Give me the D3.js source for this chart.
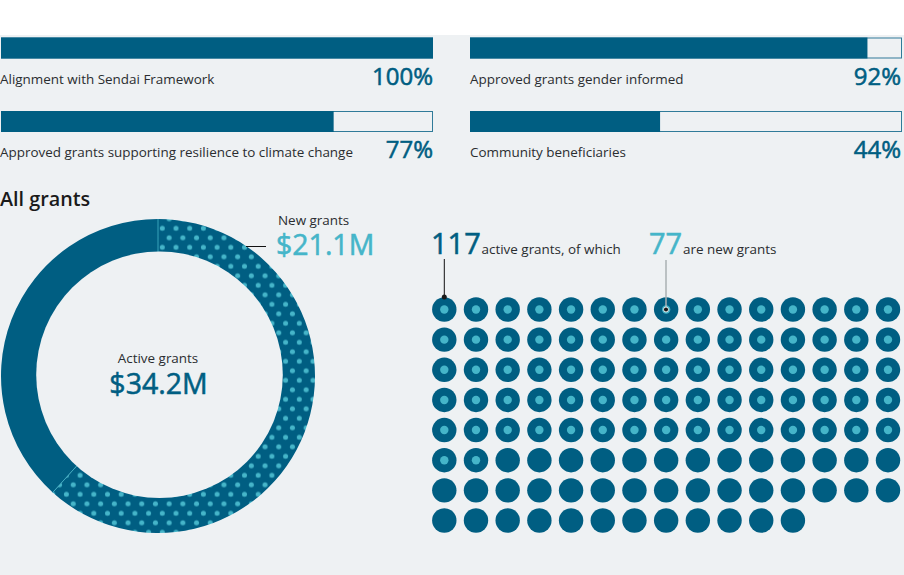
<!DOCTYPE html>
<html>
<head>
<meta charset="utf-8">
<script src="https://cdn.jsdelivr.net/npm/d3@7"></script>
<style>
html, body { margin: 0; padding: 0; background: #fff; }
svg { display: block; }
text { font-family: "Open Sans", sans-serif; }
.big { stroke-width: 0.55; paint-order: stroke; }
</style>
</head>
<body>
<svg id="chart" width="904" height="575"></svg>
<script>
// progress bars
const barLabels = ["Alignment with Sendai Framework", "Approved grants gender informed",
    "Approved grants supporting resilience to climate change", "Community beneficiaries"];
const barValues = [100, 92, 77, 44];

// donut
const donutLabels = ["New grants", "Active grants"];
const donutTotal = 34.2;
const donutNew = 21.1;

// dot grid
const activeGrants = 117;
const newGrants = 77;
const dotColumns = 15;
const dotRows = 8;

const blue = "#005e82", cyan = "#45b5c9", ink = "#2a2d30", bg = "#eef1f3";

const svg = d3.select("#chart");
svg.append("rect").attr("x", 0).attr("y", 35).attr("width", 904).attr("height", 540).attr("fill", bg);

// dotted pattern for the new grants part, origin is the donut centre
const pattern = svg.append("defs").append("pattern")
    .attr("id", "dots").attr("patternUnits", "userSpaceOnUse")
    .attr("x", 162.3 - 3.4 - 158).attr("y", 228.3 - 4.75 - 376)
    .attr("width", 13.7).attr("height", 19);
pattern.append("rect").attr("width", 13.7).attr("height", 19).attr("fill", blue);
pattern.append("circle").attr("cx", 3.4).attr("cy", 4.75).attr("r", 2.5).attr("fill", cyan);
pattern.append("circle").attr("cx", 10.25).attr("cy", 14.25).attr("r", 2.5).attr("fill", cyan);

// bars
const barX = d3.scaleLinear().domain([0, 100]).range([0, 432]);
const bars = svg.selectAll(".bar").data(barValues).enter().append("g")
    .attr("class", "bar")
    .attr("transform", (d, i) => `translate(${i % 2 ? 470 : 1},${i < 2 ? 37.5 : 111})`);
bars.append("rect").attr("x", 0.5).attr("y", 0.5).attr("width", barX(100) - 1).attr("height", 20)
    .attr("fill", bg).attr("stroke", blue).attr("stroke-opacity", 0.8);
bars.append("rect").attr("width", d => barX(d)).attr("height", 21).attr("fill", blue);
bars.append("text").attr("x", (d, i) => i % 2 ? 0 : -1).attr("y", (d, i) => i < 2 ? 46.5 : 46)
    .attr("font-size", 13.45).attr("fill", ink).text((d, i) => barLabels[i]);
bars.append("text").attr("class", "big")
    .attr("x", (d, i) => barX(100) - (i % 2 ? 1 : 0)).attr("y", (d, i) => i < 2 ? 47.5 : 47)
    .attr("text-anchor", "end").attr("font-size", 24).attr("fill", blue).attr("stroke", blue)
    .text(d => d + "%");

svg.append("text").attr("x", 0).attr("y", 206).attr("font-size", 19.8).attr("font-weight", 600)
    .attr("fill", "#1a1a1a").text("All grants");

// donut
const pie = d3.pie().sort(null)([donutNew, donutTotal - donutNew]);
const arc = d3.arc().innerRadius(100).outerRadius(157);
const donut = svg.append("g").attr("transform", "translate(158,376)");
donut.selectAll("path.part").data(pie).enter().append("path")
    .attr("class", "part")
    .attr("d", arc)
    .attr("fill", (d, i) => i === 0 ? "url(#dots)" : blue);

// thin lines where the two parts meet
const edge = d3.lineRadial();
[pie[0].startAngle, pie[0].endAngle].forEach(a => {
    donut.append("path").attr("d", edge([[a, 100], [a, 157]]))
        .attr("stroke", cyan).attr("stroke-width", 0.8).attr("fill", "none");
});

// the hole sits a little off centre in the reference
donut.append("circle").attr("cx", 1.5).attr("cy", -1.3).attr("r", 123.3).attr("fill", bg);

donut.append("text").attr("text-anchor", "middle").attr("y", -13).attr("font-size", 13.45)
    .attr("fill", ink).text(donutLabels[1]);
donut.append("text").attr("class", "big").attr("text-anchor", "middle").attr("x", 0.5).attr("y", 18)
    .attr("font-size", 28.5).attr("fill", blue).attr("stroke", blue).text("$" + donutTotal + "M");

svg.append("line").attr("x1", 246).attr("x2", 266).attr("y1", 246.5).attr("y2", 246.5)
    .attr("stroke", "#111").attr("stroke-width", 1);
svg.append("text").attr("x", 278).attr("y", 225).attr("font-size", 13.45).attr("fill", ink).text(donutLabels[0]);
svg.append("text").attr("class", "big").attr("x", 276).attr("y", 255).attr("font-size", 28.5)
    .attr("fill", cyan).attr("stroke", cyan).text("$" + donutNew + "M");

// dot grid
const dotX = d3.scaleLinear().domain([0, dotColumns - 1]).range([444.3, 888]);
const dotY = d3.scaleLinear().domain([0, dotRows - 1]).range([309.5, 520.5]);
const dots = svg.selectAll(".dot").data(d3.range(activeGrants)).enter().append("g")
    .attr("class", "dot")
    .attr("transform", d => `translate(${dotX(d % dotColumns)},${dotY(Math.floor(d / dotColumns))})`);
dots.append("circle").attr("r", 12.2).attr("fill", blue);
dots.filter(d => d < newGrants).append("circle").attr("r", 4.2).attr("fill", cyan);

// counts above the grid
svg.append("text").attr("class", "big").attr("x", 431).attr("y", 254).attr("font-size", 29)
    .attr("fill", blue).attr("stroke", blue).text(activeGrants);
svg.append("text").attr("x", 481.5).attr("y", 254).attr("font-size", 13.45).attr("fill", ink).text("active grants, of which");
svg.append("text").attr("class", "big").attr("x", 649).attr("y", 254).attr("font-size", 29)
    .attr("fill", cyan).attr("stroke", cyan).text(newGrants);
svg.append("text").attr("x", 683).attr("y", 254).attr("font-size", 13.45).attr("fill", ink).text("are new grants");

svg.append("line").attr("x1", 444.3).attr("x2", 444.3).attr("y1", 259).attr("y2", 297)
    .attr("stroke", "#111").attr("stroke-width", 1);
svg.append("circle").attr("cx", 444.3).attr("cy", 297).attr("r", 2.5).attr("fill", "#1a1a1a");
svg.append("line").attr("x1", 666).attr("x2", 666).attr("y1", 260).attr("y2", 309)
    .attr("stroke", "#aab0b3").attr("stroke-width", 1.5);
svg.append("circle").attr("cx", 666).attr("cy", 309.5).attr("r", 2.5).attr("fill", "#1a1a1a")
    .attr("stroke", "#e6eef0").attr("stroke-width", 1);
</script>
</body>
</html>
